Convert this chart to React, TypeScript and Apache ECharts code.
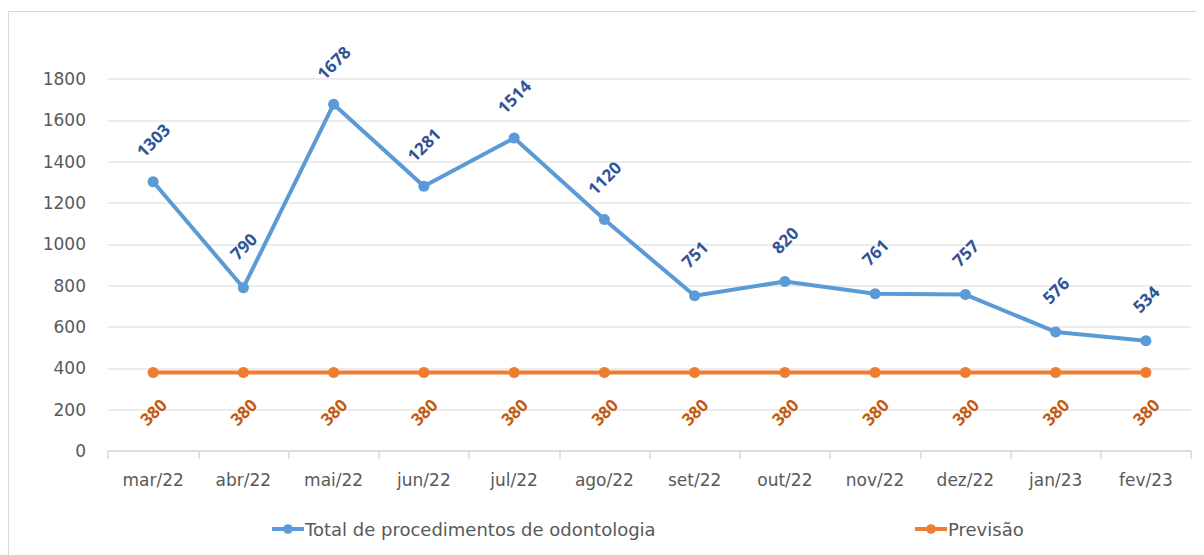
import React, { useEffect, useRef } from "react";
import * as echarts from "echarts";

const categories = ["mar/22", "abr/22", "mai/22", "jun/22", "jul/22", "ago/22", "set/22", "out/22", "nov/22", "dez/22", "jan/23", "fev/23"];
const totalValues = [1303, 790, 1678, 1281, 1514, 1120, 751, 820, 761, 757, 576, 534];
const previsaoValues = [380, 380, 380, 380, 380, 380, 380, 380, 380, 380, 380, 380];
const seriesNames = ["Total de procedimentos de odontologia", "Previsão"];

export default function App() {
  const ref = useRef<HTMLDivElement>(null);
  useEffect(() => {
    if (!ref.current) return;
    const chart = echarts.init(ref.current, null, { renderer: "svg" });
    const font = "'Open Sans', 'Noto Sans', sans-serif";
    const axisFont = "'DejaVu Sans', sans-serif";
    const legendCommon = {
      top: 503,
      itemWidth: 32,
      itemHeight: 12,
      itemGap: 2,
      lineStyle: { width: 4 },
      textStyle: { fontSize: 18, color: "#595959", fontFamily: axisFont, padding: [0, 0, 0, -4] },
    };
    chart.setOption({
      animation: false,
      textStyle: { fontFamily: font },
      grid: { left: 99, right: 13, top: 67, bottom: 104 },
      legend: [
        { ...legendCommon, data: [seriesNames[0]], left: 256 },
        { ...legendCommon, data: [seriesNames[1]], left: 899 },
      ],
      xAxis: {
        type: "category",
        data: categories,
        boundaryGap: true,
        axisLine: { lineStyle: { color: "#D9D9D9", width: 1.5 } },
        axisTick: { show: true, length: 8, lineStyle: { color: "#D9D9D9", width: 1.5 } },
        axisLabel: { color: "#595959", fontSize: 17, margin: 20, fontFamily: axisFont },
      },
      yAxis: {
        type: "value",
        min: 0,
        max: 1800,
        interval: 200,
        axisLine: { show: false },
        axisTick: { show: false },
        axisLabel: { color: "#595959", fontSize: 17, margin: 22, fontFamily: axisFont, formatter: (v: number) => String(v) },
        splitLine: { lineStyle: { color: "#E6E6E6", width: 1.5 } },
      },
      series: [
        {
          name: seriesNames[0],
          type: "line",
          data: totalValues,
          color: "#5B9BD5",
          lineStyle: { width: 4, color: "#5B9BD5" },
          symbol: "circle",
          symbolSize: 11,
          itemStyle: { color: "#5B9BD5" },
          label: {
            show: true,
            position: "top",
            distance: 36,
            rotate: 45,
            align: "center",
            verticalAlign: "middle",
            color: "#2F5597",
            fontWeight: "bold",
            fontSize: 17,
            fontFamily: font,
          },
        },
        {
          name: seriesNames[1],
          type: "line",
          data: previsaoValues,
          color: "#ED7D31",
          lineStyle: { width: 4, color: "#ED7D31" },
          symbol: "circle",
          symbolSize: 11,
          itemStyle: { color: "#ED7D31" },
          label: {
            show: true,
            position: "bottom",
            distance: 34,
            rotate: 45,
            align: "center",
            verticalAlign: "middle",
            color: "#C55A11",
            fontWeight: "bold",
            fontSize: 17,
            fontFamily: font,
          },
        },
      ],
    });
    return () => chart.dispose();
  }, []);
  return (
    <div style={{ paddingTop: 3 }}>
      <div
        style={{
          borderLeft: "1px solid #D9D9D9",
          borderTop: "1px solid #D9D9D9",
          width: 1195,
          height: 543,
        }}
      >
        <div ref={ref} style={{ width: 1195, height: 543 }} />
      </div>
    </div>
  );
}
